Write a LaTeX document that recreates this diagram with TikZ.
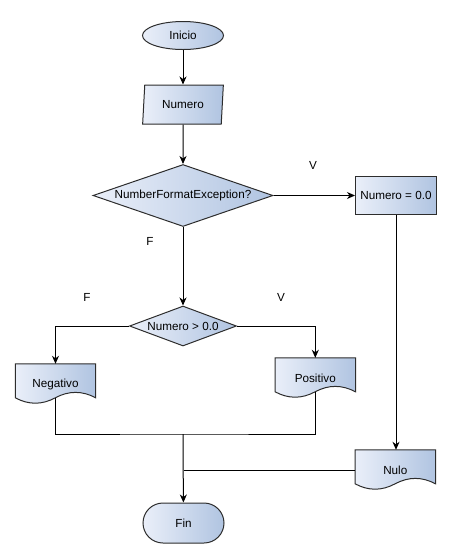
\documentclass[tikz,border=0pt]{standalone}
\usepackage{fontspec}
\setmainfont{Liberation Sans}
\usetikzlibrary{shapes.geometric,shapes.misc,arrows.meta,backgrounds}
\definecolor{gl}{RGB}{234,239,249}
\definecolor{gr}{RGB}{176,196,225}
\definecolor{ln}{RGB}{45,45,45}
\tikzset{
  txt/.style={font=\fontsize{11.7}{14}\selectfont},
  box/.style={txt, draw=ln, line width=1pt, left color=gl, right color=gr, inner sep=0pt},
  lbl/.style={txt, inner sep=0pt},
  conn/.style={draw=black, line width=1pt},
  arr/.style={conn, -{Stealth[length=8pt,width=7pt,inset=2.5pt]}},
  docnode/.style={txt, inner sep=0pt, minimum width=80pt, minimum height=40pt},
  docfill/.style={draw=ln, line width=1pt, left color=gl, right color=gr},
}
\newcommand\docpath[1]{%
  \path[docfill] (#1.north west) -- (#1.north east) -- ([yshift=-34pt]#1.north east)
   .. controls ([xshift=-13.33pt,yshift=-26.8pt]#1.north east) and ([xshift=53.33pt,yshift=-26.8pt]#1.north west) .. ([xshift=40pt,yshift=-34pt]#1.north west)
   .. controls ([xshift=26.67pt,yshift=-41.2pt]#1.north west) and ([xshift=13.33pt,yshift=-41.2pt]#1.north west) .. ([yshift=-34pt]#1.north west) -- cycle;}
\begin{document}
\begin{tikzpicture}[x=1pt,y=-1pt]
\useasboundingbox (0,0) rectangle (450,558);
\node[box, ellipse, minimum width=81pt, minimum height=28pt] (ini) at (183,35.5) {Inicio};
\node[box, trapezium, trapezium left angle=82, trapezium right angle=98, trapezium stretches=true, minimum width=81pt, minimum height=39pt] (num) at (183,104.5) {Numero};
\node[box, diamond, aspect=2.9, minimum width=180pt, minimum height=62pt] (d1) at (183,195.5) {NumberFormatException?};
\node[box, minimum width=81pt, minimum height=38pt] (z) at (396,195.5) {Numero = 0.0};
\node[box, diamond, aspect=2.7, minimum width=107pt, minimum height=40pt] (d2) at (183,326) {Numero > 0.0};
\node[docnode] (neg) at (55.5,384) {Negativo};
\node[docnode] (pos) at (315.3,378) {Positivo};
\node[docnode] (nulo) at (395.3,470) {Nulo};
\node[box, rounded rectangle, minimum width=81pt, minimum height=40pt] (fin) at (183.5,523) {Fin};
\begin{scope}[on background layer]
\docpath{neg}
\docpath{pos}
\docpath{nulo}
\end{scope}
\node[lbl] (lv1) at (313,165) {V};
\node[lbl] (lf1) at (150,241) {F};
\node[lbl] (lf2) at (87,297) {F};
\node[lbl] (lv2) at (281,297) {V};
\coordinate (negb) at ([yshift=-34pt]neg.north);
\coordinate (posb) at ([yshift=-34pt]pos.north);
\coordinate (j1) at (183,434);
\draw[arr] (ini) -- (num);
\draw[arr] (num) -- (d1);
\draw[arr] (d1) -- (z);
\draw[arr] (d1) -- (d2);
\draw[arr] (d2.west) -| (neg.north);
\draw[arr] (d2.east) -| (pos.north);
\draw[arr] (z.south) -- (z.south |- nulo.north);
\draw[conn] (negb) |- (j1) -| (posb);
\draw[arr] (j1) -- (fin);
\draw[conn] (nulo.west) -- (nulo.west -| fin.north);
\end{tikzpicture}
\end{document}
